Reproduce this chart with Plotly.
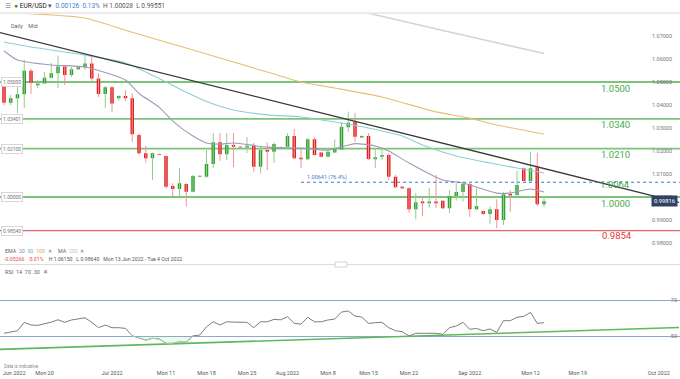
import plotly.graph_objects as go

# ---------------- data ----------------
dates = [
    "2022-06-13", "2022-06-14", "2022-06-15", "2022-06-16", "2022-06-17", "2022-06-19", "2022-06-20",
    "2022-06-21", "2022-06-22", "2022-06-23", "2022-06-24", "2022-06-26", "2022-06-27", "2022-06-28",
    "2022-06-29", "2022-06-30", "2022-07-01", "2022-07-03", "2022-07-04", "2022-07-05", "2022-07-06",
    "2022-07-07", "2022-07-08", "2022-07-10", "2022-07-11", "2022-07-12", "2022-07-13", "2022-07-14",
    "2022-07-15", "2022-07-17", "2022-07-18", "2022-07-19", "2022-07-20", "2022-07-21", "2022-07-22",
    "2022-07-24", "2022-07-25", "2022-07-26", "2022-07-27", "2022-07-28", "2022-07-29", "2022-07-31",
    "2022-08-01", "2022-08-02", "2022-08-03", "2022-08-04", "2022-08-05", "2022-08-07", "2022-08-08",
    "2022-08-09", "2022-08-10", "2022-08-11", "2022-08-12", "2022-08-14", "2022-08-15", "2022-08-16",
    "2022-08-17", "2022-08-18", "2022-08-19", "2022-08-21", "2022-08-22", "2022-08-23", "2022-08-24",
    "2022-08-25", "2022-08-26", "2022-08-28", "2022-08-29", "2022-08-30", "2022-08-31", "2022-09-01",
    "2022-09-02", "2022-09-04", "2022-09-05", "2022-09-06", "2022-09-07", "2022-09-08", "2022-09-09",
    "2022-09-11", "2022-09-12", "2022-09-13", "2022-09-14",
]
opens = [1.0487, 1.0410, 1.0429, 1.0447, 1.0549, 1.0486, 1.0494, 1.0519, 1.0538, 1.0567, 1.0530,
         1.0555, 1.0564, 1.0581, 1.0515, 1.0448, 1.0477, 1.0429, 1.0439, 1.0429, 1.0270, 1.0190,
         1.0168, 1.0187, 1.0178, 1.0048, 1.0035, 1.0057, 1.0023, 1.0088, 1.0088, 1.0143, 1.0238,
         1.0186, 1.0226, 1.0219, 1.0215, 1.0223, 1.0132, 1.0204, 1.0197, 1.0211, 1.0218, 1.0265,
         1.0171, 1.0164, 1.0251, 1.0194, 1.0175, 1.0194, 1.0207, 1.0303, 1.0327, 1.0259, 1.0265,
         1.0164, 1.0175, 1.0183, 1.0088, 1.0045, 1.0038, 0.9947, 0.9980, 0.9973, 0.9980, 0.9984,
         0.9951, 1.0004, 1.0022, 1.0057, 0.9947, 0.9939, 0.9926, 0.9947, 0.9900, 1.0013, 1.0009,
         1.0125, 1.0070, 1.0129, 0.9969]
highs = [1.0494, 1.0443, 1.0487, 1.0596, 1.0557, 1.0509, 1.0543, 1.0583, 1.0615, 1.0574, 1.0565,
         1.0568, 1.0613, 1.0609, 1.0539, 1.0483, 1.0483, 1.0443, 1.0465, 1.0452, 1.0278, 1.0222,
         1.0193, 1.0190, 1.0180, 1.0060, 1.0126, 1.0060, 1.0096, 1.0094, 1.0204, 1.0278, 1.0278,
         1.0278, 1.0278, 1.0222, 1.0261, 1.0235, 1.0219, 1.0236, 1.0236, 1.0220, 1.0278, 1.0296,
         1.0209, 1.0257, 1.0261, 1.0196, 1.0213, 1.0251, 1.0327, 1.0371, 1.0365, 1.0268, 1.0277,
         1.0212, 1.0212, 1.0190, 1.0096, 1.0047, 1.0043, 1.0017, 1.0001, 1.0039, 1.0096, 0.9986,
         1.0030, 1.0060, 1.0067, 1.0060, 1.0038, 0.9941, 0.9958, 0.9990, 1.0023, 1.0030, 1.0114,
         1.0129, 1.0197, 1.0193, 1.00028]
lows = [1.0400, 1.0400, 1.0365, 1.0387, 1.0448, 1.0474, 1.0491, 1.0517, 1.0474, 1.0487, 1.0522,
        1.0552, 1.0552, 1.0500, 1.0435, 1.0387, 1.0370, 1.0420, 1.0417, 1.0240, 1.0183, 1.0149,
        1.0074, 1.0182, 1.0038, 1.0004, 1.0004, 0.9958, 1.0020, 1.0086, 1.0083, 1.0126, 1.0157,
        1.0161, 1.0130, 1.0212, 1.0191, 1.0110, 1.0103, 1.0117, 1.0148, 1.0208, 1.0215, 1.0164,
        1.0125, 1.0160, 1.0180, 1.0172, 1.0172, 1.0190, 1.0205, 1.0284, 1.0240, 1.0256, 1.0161,
        1.0125, 1.0161, 1.0074, 1.0038, 1.0035, 0.9932, 0.9903, 0.9917, 0.9952, 0.9952, 0.9948,
        0.9929, 0.9984, 0.9980, 0.9914, 0.9943, 0.9923, 0.9883, 0.9864, 0.9878, 0.9936, 1.0001,
        1.0067, 1.0067, 0.9961, 0.99551]
closes = [1.0410, 1.0429, 1.0447, 1.0549, 1.0497, 1.0494, 1.0519, 1.0538, 1.0567, 1.0530, 1.0555,
          1.0564, 1.0581, 1.0515, 1.0448, 1.0477, 1.0407, 1.0439, 1.0429, 1.0273, 1.0190, 1.0168,
          1.0190, 1.0184, 1.0045, 1.0035, 1.0060, 1.0023, 1.0091, 1.0092, 1.0143, 1.0238, 1.0186,
          1.0226, 1.0219, 1.0215, 1.0223, 1.0132, 1.0204, 1.0197, 1.0230, 1.0216, 1.0265, 1.0168,
          1.0164, 1.0251, 1.0183, 1.0175, 1.0197, 1.0212, 1.0306, 1.0323, 1.0262, 1.0265, 1.0165,
          1.0173, 1.0183, 1.0088, 1.0042, 1.0038, 0.9947, 0.9977, 0.9973, 0.9980, 0.9973, 0.9951,
          1.0004, 1.0022, 1.0057, 0.9947, 0.9961, 0.9926, 0.9947, 0.9900, 1.0012, 1.0006, 1.0052,
          1.0070, 1.0125, 0.9969, 0.99816]
rsi = [51.7, 52.4, 53.1, 57.8, 56.3, 56.1, 56.8, 57.9, 59.2, 57.8, 59.1, 59.6, 60.3, 57.8, 54.8,
       56.3, 54.8, 54.8, 54.4, 50.3, 49.2, 47.9, 48.9, 48.5, 46.1, 46.1, 47.0, 46.7, 50.3, 50.7,
       55.3, 58.1, 56.3, 58.1, 57.9, 57.9, 57.8, 54.8, 58.1, 58.1, 59.4, 59.2, 60.9, 57.2, 56.8,
       60.6, 58.1, 58.1, 59.1, 59.6, 63.5, 64.1, 61.3, 60.7, 57.2, 57.6, 57.8, 54.8, 53.1, 52.6,
       50.2, 51.7, 51.7, 52.0, 51.7, 51.1, 54.8, 55.7, 57.8, 53.9, 54.4, 53.1, 54.1, 52.2, 58.7,
       58.7, 60.6, 61.1, 63.3, 57.2, 57.6]
rsi_low_idx = list(range(19, 29))   # stretch drawn in green

ema20_idx = [0, 2, 7, 12, 18, 20, 23, 25, 28, 30, 32, 34, 39, 44, 48, 50, 52, 55, 57, 60, 65, 68, 73, 75, 78, 80]
ema20 = [1.0635, 1.0596, 1.0574, 1.0565, 1.0509, 1.0450, 1.0390, 1.0330, 1.0265, 1.0235, 1.0230,
         1.0235, 1.0217, 1.0213, 1.0204, 1.0218, 1.0232, 1.0222, 1.0200, 1.0148, 1.0074, 1.0061,
         1.0017, 1.0017, 1.0035, 1.0022]
ema50_idx = [0, 4, 11, 18, 23, 27, 30, 34, 39, 44, 49, 54, 59, 62, 67, 72, 76, 80]
ema50 = [1.0674, 1.0652, 1.0622, 1.0583, 1.0515, 1.0455, 1.0415, 1.0378, 1.0357, 1.0348, 1.0326,
         1.0300, 1.0265, 1.0226, 1.0178, 1.0148, 1.0126, 1.0104]
ema100_idx = [0, 12, 18, 22, 28, 35, 40, 44, 49, 56, 64, 69, 73, 80]
ema100 = [1.0803, 1.0778, 1.0725, 1.0690, 1.0639, 1.0578, 1.0535, 1.0500, 1.0474, 1.0435, 1.0370,
          1.0343, 1.0313, 1.0274]
ma200_idx = [45, 54, 65, 72, 80]
ma200 = [1.0857, 1.0799, 1.0724, 1.0677, 1.0624]

trend_x = ["2022-06-12", "2022-10-04"]
trend_y = [1.0718, 0.9977]
rsi_trend_x = ["2022-06-12", "2022-10-04"]
rsi_trend_y = [42.7, 54.9]

green_levels = [1.0500, 1.0340, 1.0210, 1.0000]
green_level_tags = ["1.05000", "1.03401", "1.02100", "1.00000"]
fib_level = 1.00641
fib_label = "1.00641 (76.4%)"
fib_start = "2022-08-03"
fib_text_level = 1.0064
red_level = 0.9854
red_level_tag = "0.98540"
last_price = 0.99816

header_change = "0.00126"
header_pct = "0.13%"
header_high = "1.00028"
header_low = "0.99551"
range_change = "-0.05266"
range_pct = "-5.01%"
range_high = "1.06150"
range_low = "0.98640"
range_text = "Mon 13 Jun 2022 - Tue 4 Oct 2022"

price_ticks = [0.98, 0.99, 1.00, 1.01, 1.02, 1.03, 1.04, 1.05, 1.06, 1.07]
x_tick_dates = ["2022-06-14 12:00", "2022-06-20", "2022-07-01", "2022-07-11", "2022-07-18", "2022-07-25",
                "2022-08-01", "2022-08-08", "2022-08-15", "2022-08-22", "2022-09-01", "2022-09-12",
                "2022-09-19", "2022-10-01"]
x_tick_labels = ["Jun 2022", "Mon 20", "Jul 2022", "Mon 11", "Mon 18", "Mon 25", "Aug 2022", "Mon 8",
                 "Mon 15", "Mon 22", "Sep 2022", "Mon 12", "Mon 19", "Oct 2022"]
saturdays = ["2022-06-18", "2022-06-25", "2022-07-02", "2022-07-09", "2022-07-16", "2022-07-23",
             "2022-07-30", "2022-08-06", "2022-08-13", "2022-08-20", "2022-08-27", "2022-09-03",
             "2022-09-10"]

# ---------------- styling ----------------
W, H = 680, 379
FONT = "Roboto, Arial, sans-serif"
GREEN = "#34a034"
RED = "#e22020"
GREEN_WICK = "#8fcf8c"
RED_WICK = "#f29494"
LEVEL_GREEN = "#7cc47a"
TEXT_GREEN = "#4aa94a"


def py(p):
    return 1 - p / H


def px(p):
    return p / W


fig = go.Figure()

# wicks
for up in (True, False):
    wx, wy = [], []
    for d, o, h, l, c in zip(dates, opens, highs, lows, closes):
        if (c >= o) == up:
            wx += [d, d, None]
            wy += [l, h, None]
    fig.add_trace(go.Scatter(x=wx, y=wy, mode="lines", xaxis="x", yaxis="y",
                             line=dict(color=GREEN_WICK if up else RED_WICK, width=1),
                             hoverinfo="skip"))

fig.add_trace(go.Candlestick(
    x=dates, open=opens, high=highs, low=lows, close=closes, xaxis="x", yaxis="y",
    increasing=dict(fillcolor=GREEN, line=dict(color=GREEN, width=0)),
    decreasing=dict(fillcolor=RED, line=dict(color=RED, width=0)),
    whiskerwidth=0))

for idx, vals, col, w in [(ma200_idx, ma200, "#d3d3d3", 1.5),
                          (ema100_idx, ema100, "#e9bd78", 1.1),
                          (ema50_idx, ema50, "#8ccfd2", 1.1),
                          (ema20_idx, ema20, "#a498b8", 1.1)]:
    fig.add_trace(go.Scatter(x=[dates[i] for i in idx], y=vals, mode="lines",
                             line=dict(color=col, width=w, shape="spline", smoothing=0.6),
                             xaxis="x", yaxis="y", hoverinfo="skip"))

fig.add_trace(go.Scatter(x=trend_x, y=trend_y, mode="lines", line=dict(color="#3a3a3a", width=1.3),
                         xaxis="x", yaxis="y", hoverinfo="skip"))

# RSI panel
fig.add_trace(go.Scatter(x=rsi_trend_x, y=rsi_trend_y, mode="lines", line=dict(color="#5db95b", width=1.6),
                         xaxis="x2", yaxis="y2", hoverinfo="skip"))
fig.add_trace(go.Scatter(x=dates, y=rsi, mode="lines", line=dict(color="#7d7d7d", width=1),
                         xaxis="x2", yaxis="y2", hoverinfo="skip"))
low_x = [dates[i] for i in rsi_low_idx]
fig.add_trace(go.Scatter(x=low_x, y=[50] * len(low_x), mode="lines", line=dict(width=0),
                         xaxis="x2", yaxis="y2", hoverinfo="skip"))
fig.add_trace(go.Scatter(x=low_x, y=[rsi[i] for i in rsi_low_idx], mode="lines",
                         line=dict(color="#9fd89c", width=1), fill="tonexty",
                         fillcolor="rgba(140,210,140,0.15)", xaxis="x2", yaxis="y2", hoverinfo="skip"))

shapes = []
for lv in green_levels:
    shapes.append(dict(type="line", xref="x domain", yref="y", x0=0, x1=1, y0=lv, y1=lv,
                       line=dict(color=LEVEL_GREEN, width=1.8), layer="below"))
shapes.append(dict(type="line", xref="x domain", yref="y", x0=0, x1=1, y0=red_level, y1=red_level,
                   line=dict(color="#e06464", width=1.4), layer="below"))
shapes.append(dict(type="line", xref="x", yref="y", x0=fib_start, x1="2022-10-10",
                   y0=fib_level, y1=fib_level, line=dict(color="#3f7cc8", width=1.1, dash="dot")))
# header band & separators
shapes.append(dict(type="rect", xref="paper", yref="paper", x0=0, x1=1, y0=py(12), y1=1,
                   fillcolor="white", line=dict(width=0)))
shapes.append(dict(type="line", xref="paper", yref="paper", x0=0, x1=1, y0=py(13), y1=py(13),
                   line=dict(color="#ebebeb", width=2)))
shapes.append(dict(type="line", xref="paper", yref="paper", x0=0, x1=1, y0=py(264.5), y1=py(264.5),
                   line=dict(color="#dddddd", width=1)))
shapes.append(dict(type="rect", xref="paper", yref="paper", x0=px(335), x1=px(347), y0=py(267), y1=py(262),
                   fillcolor="white", line=dict(color="#c8c8c8", width=0.8)))

ann = []
small = dict(family=FONT, size=5.5, color="#666")
ann.append(dict(xref="paper", yref="paper", x=px(3), y=py(6.5), xanchor="left", yanchor="middle",
                showarrow=False, font=dict(family=FONT, size=6.5, color="#555"),
                text=('<span style="color:#999">☰</span>  <span style="color:#2ca02c">●</span> '
                      '<span style="color:#222">EUR/USD</span> <span style="color:#555">▾</span>  '
                      f'<span style="color:#3b82d0">{header_change}  {header_pct}</span>  '
                      f'H {header_high}  L {header_low}')))
ann.append(dict(xref="paper", yref="paper", x=px(9), y=py(26), xanchor="left", yanchor="middle",
                showarrow=False, font=small, text="Daily    Mid"))
ann.append(dict(xref="paper", yref="paper", x=px(3), y=py(251), xanchor="left", yanchor="middle",
                showarrow=False, font=dict(family=FONT, size=5.3, color="#666"),
                text=('EMA  <span style="color:#8d84a3">20</span>  <span style="color:#5fb8c4">50</span>  '
                      '<span style="color:#e0a457">100</span>  ✕     MA  '
                      '<span style="color:#c4c4c4">200</span>  ✕')))
ann.append(dict(xref="paper", yref="paper", x=px(2), y=py(259), xanchor="left", yanchor="middle",
                showarrow=False, font=dict(family=FONT, size=5.2, color="#555"),
                text=(f'<span style="color:#e05050">{range_change}   {range_pct}</span>    '
                      f'H {range_high}   L {range_low}   {range_text}')))
ann.append(dict(xref="paper", yref="paper", x=px(3), y=py(272), xanchor="left", yanchor="middle",
                showarrow=False, font=small, text="RSI  14  70  30  ✕"))
ann.append(dict(xref="paper", yref="paper", x=px(2), y=py(366), xanchor="left", yanchor="middle",
                showarrow=False, font=dict(family=FONT, size=4.5, color="#888"), text="Data is indicative"))

for lv in green_levels:
    ann.append(dict(xref="paper", yref="y", x=px(615), y=lv, yshift=-6, xanchor="center", yanchor="middle",
                    showarrow=False, font=dict(family=FONT, size=9.5, color=TEXT_GREEN), text=f"{lv:.4f}"))
ann.append(dict(xref="paper", yref="y", x=px(615), y=fib_text_level, yshift=-2, xanchor="center",
                yanchor="middle", showarrow=False, font=dict(family=FONT, size=9.5, color=TEXT_GREEN),
                text=f"{fib_text_level:.4f}"))
ann.append(dict(xref="paper", yref="y", x=px(617), y=red_level, yshift=-5, xanchor="center", yanchor="middle",
                showarrow=False, font=dict(family=FONT, size=9.5, color="#e03a3a"), text=f"{red_level:.4f}"))
for lv, tag in list(zip(green_levels, green_level_tags)) + [(red_level, red_level_tag)]:
    ann.append(dict(xref="paper", yref="y", x=px(1), y=lv, xanchor="left", yanchor="middle",
                    showarrow=False, font=dict(family=FONT, size=5, color="#777"), text=tag,
                    bgcolor="white", bordercolor="#cfcfcf", borderwidth=0.8, borderpad=1.2))
ann.append(dict(xref="x", yref="y", x=fib_start, y=fib_level, yshift=5, xanchor="left", yanchor="middle",
                xshift=4, showarrow=False, font=dict(family=FONT, size=5.5, color="#3f7cc8"), text=fib_label))
ann.append(dict(xref="paper", yref="y", x=px(678), y=last_price, xanchor="right", yanchor="middle",
                showarrow=False, font=dict(family=FONT, size=5.8, color="white"), text=f"{last_price:.5f}",
                bgcolor="#2e4363", borderpad=2))

rb = [dict(values=saturdays, dvalue=86400000)]
xr = ["2022-06-12 09:47", "2022-10-04 03:30"]

fig.update_layout(
    width=W, height=H, margin=dict(l=0, r=0, t=0, b=0),
    paper_bgcolor="white", plot_bgcolor="white", showlegend=False,
    font=dict(family=FONT, size=6, color="#666"),
    boxgap=0.26,
    shapes=shapes, annotations=ann,
    xaxis=dict(domain=[0, 1], anchor="y", range=xr, rangebreaks=rb, showticklabels=False,
               showgrid=False, zeroline=False, showline=False, ticks="",
               rangeslider=dict(visible=False)),
    yaxis=dict(domain=[py(264), py(14)], anchor="x", range=[0.97087, 1.07957], side="right",
               ticklabelposition="inside", tickvals=price_ticks,
               ticktext=[f"{v:.5f}" for v in price_ticks], ticklabelstandoff=5,
               tickfont=dict(family=FONT, size=5.5, color="#777"), showgrid=False, zeroline=False,
               showline=False, ticks=""),
    xaxis2=dict(domain=[0, 1], anchor="y2", range=xr, matches="x", rangebreaks=rb,
                tickvals=x_tick_dates, ticktext=x_tick_labels, tickangle=0,
                ticklabeloverflow="allow",
                tickfont=dict(family=FONT, size=5.5, color="#555"), showgrid=False, zeroline=False,
                showline=False, ticks=""),
    yaxis2=dict(domain=[py(368), py(266)], anchor="x2", range=[32.4, 89.1], side="right",
                ticklabelposition="inside", tickvals=[50, 70], ticktext=["50", "70"],
                tickfont=dict(family=FONT, size=5.5, color="#777"), showgrid=True,
                gridcolor="#8ea7cb", gridwidth=1.2, zeroline=False, showline=False, ticks=""),
)

fig.write_html("out.html", config={"displayModeBar": False},
               post_script="document.body.style.margin='0';document.body.style.overflow='hidden';")
